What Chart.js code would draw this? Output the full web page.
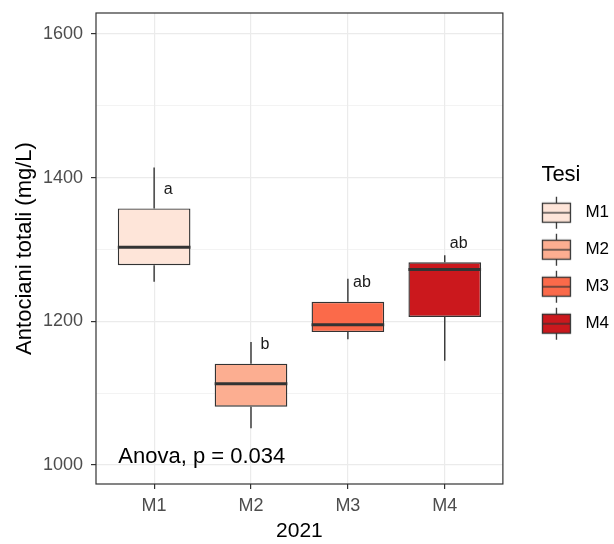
<!DOCTYPE html>
<html>
<head>
<meta charset="utf-8">
<script src="https://cdn.jsdelivr.net/npm/chart.js@4.4.1/dist/chart.umd.min.js"></script>
<style>
  body { margin: 0; background: #ffffff; }
  canvas { display: block; }
</style>
</head>
<body>
<canvas id="antocianiChart" width="614" height="544"></canvas>
<script>
// Valori (mg/L)
const tesi = ['M1', 'M2', 'M3', 'M4'];
const minimi = [1255, 1051, 1175, 1145];
const q1 = [1278, 1081, 1185, 1206];
const mediane = [1303, 1113, 1195, 1272];
const q3 = [1357, 1141, 1227, 1282];
const massimi = [1414, 1171, 1259, 1292];
const lettere = ['a', 'b', 'ab', 'ab'];
const colori = ['#FEE5D9', '#FCAE91', '#FB6A4A', '#CB181D'];
const yTicks = [1000, 1200, 1400, 1600];
const testoAnova = 'Anova, p = 0.034';

const FONT = '"Liberation Sans", Arial, sans-serif';
Chart.defaults.font.family = FONT;

// Chiave della legenda: box con baffi e mediana
function chiaveLegenda(colore) {
    const c = document.createElement('canvas');
    c.width = 54;
    c.height = 34;
    const g = c.getContext('2d');
    g.strokeStyle = '#333333';
    g.lineWidth = 1.3;
    g.beginPath();
    g.moveTo(33.5, 1);
    g.lineTo(33.5, 33);
    g.stroke();
    g.fillStyle = colore;
    g.fillRect(19.5, 7.5, 28, 19);
    g.strokeRect(19.5, 7.5, 28, 19);
    g.beginPath();
    g.moveTo(19.5, 17);
    g.lineTo(47.5, 17);
    g.stroke();
    return c;
}

// Baffi, mediane, lettere, testo Anova e bordo del pannello
const boxplotPlugin = {
    id: 'boxplot',
    afterDatasetsDraw(chart) {
        const { ctx, chartArea, scales: { x, y } } = chart;
        const meta = chart.getDatasetMeta(0);
        ctx.save();
        ctx.strokeStyle = '#333333';
        meta.data.forEach((bar, i) => {
            const cx = bar.x;
            const half = bar.width / 2;
            ctx.lineWidth = 1.4;
            ctx.beginPath();
            ctx.moveTo(cx, y.getPixelForValue(q3[i]));
            ctx.lineTo(cx, y.getPixelForValue(massimi[i]));
            ctx.moveTo(cx, y.getPixelForValue(q1[i]));
            ctx.lineTo(cx, y.getPixelForValue(minimi[i]));
            ctx.stroke();

            const ym = y.getPixelForValue(mediane[i]);
            ctx.lineWidth = 3;
            ctx.beginPath();
            ctx.moveTo(cx - half, ym);
            ctx.lineTo(cx + half, ym);
            ctx.stroke();

            ctx.fillStyle = '#1a1a1a';
            ctx.font = '16px ' + FONT;
            ctx.textAlign = 'center';
            ctx.textBaseline = 'middle';
            ctx.fillText(lettere[i], cx + 14, y.getPixelForValue(q3[i]) - 19);
        });

        ctx.fillStyle = '#000000';
        ctx.font = '22px ' + FONT;
        ctx.textAlign = 'left';
        ctx.textBaseline = 'middle';
        ctx.fillText(testoAnova, x.getPixelForValue(0.63), y.getPixelForValue(1011));

        ctx.strokeStyle = '#333333';
        ctx.lineWidth = 1.2;
        ctx.strokeRect(chartArea.left, chartArea.top,
            chartArea.right - chartArea.left, chartArea.bottom - chartArea.top);
        ctx.restore();
    }
};

new Chart(document.getElementById('antocianiChart'), {
    type: 'bar',
    data: {
        datasets: [{
            data: tesi.map((t, i) => ({ x: i + 1, y: [q1[i], q3[i]] })),
            backgroundColor: colori,
            borderColor: '#333333',
            borderWidth: 1.4,
            borderSkipped: false,
            categoryPercentage: 0.75,
            barPercentage: 1
        }]
    },
    options: {
        responsive: false,
        animation: false,
        devicePixelRatio: 1,
        layout: { padding: { top: 13, right: -5, bottom: 0, left: 0 } },
        plugins: {
            tooltip: { enabled: false },
            legend: {
                position: 'right',
                title: {
                    display: true,
                    text: 'Tesi',
                    color: '#000000',
                    font: { size: 22 },
                    padding: { top: -41, bottom: -6 }
                },
                labels: {
                    usePointStyle: true,
                    pointStyleWidth: 54,
                    color: '#000000',
                    font: { size: 17 },
                    padding: 20,
                    generateLabels: () => tesi.map((t, i) => ({
                        text: t,
                        fillStyle: colori[i],
                        strokeStyle: '#333333',
                        pointStyle: chiaveLegenda(colori[i]),
                        hidden: false,
                        index: i,
                        datasetIndex: 0
                    }))
                },
                onClick: () => {}
            }
        },
        scales: {
            x: {
                type: 'linear',
                min: 0.4,
                max: 4.6,
                offset: false,
                border: { display: false },
                afterFit: s => { s.height = 60; s.paddingLeft = 0; s.paddingRight = 0; },
                grid: {
                    offset: false,
                    color: '#EBEBEB',
                    lineWidth: 1.2,
                    tickLength: 5,
                    tickColor: '#333333',
                    tickWidth: 1.2
                },
                ticks: {
                    stepSize: 1,
                    includeBounds: false,
                    autoSkip: false,
                    color: '#4D4D4D',
                    font: { size: 18 },
                    padding: 6.5,
                    callback: v => tesi[v - 1] || ''
                },
                title: {
                    display: true,
                    text: '2021',
                    color: '#000000',
                    font: { size: 21 },
                    padding: { top: 0, bottom: 0 }
                }
            },
            y: {
                min: 973.5,
                max: 1629,
                border: { display: false },
                afterFit: s => { s.width = 96; s.paddingTop = 0; s.paddingBottom = 0; },
                grid: {
                    color: '#EBEBEB',
                    lineWidth: c => yTicks.includes(c.tick.value) ? 1.2 : 0.6,
                    tickLength: 5,
                    tickColor: c => yTicks.includes(c.tick.value) ? '#333333' : 'rgba(0,0,0,0)',
                    tickWidth: 1.2
                },
                ticks: {
                    stepSize: 100,
                    includeBounds: false,
                    autoSkip: false,
                    color: '#4D4D4D',
                    font: { size: 18 },
                    padding: 8,
                    callback: v => yTicks.includes(v) ? v : ''
                },
                title: {
                    display: true,
                    text: 'Antociani totali (mg/L)',
                    color: '#000000',
                    font: { size: 22 },
                    padding: { top: 12, bottom: 4 }
                }
            }
        }
    },
    plugins: [boxplotPlugin]
});
</script>
</body>
</html>
